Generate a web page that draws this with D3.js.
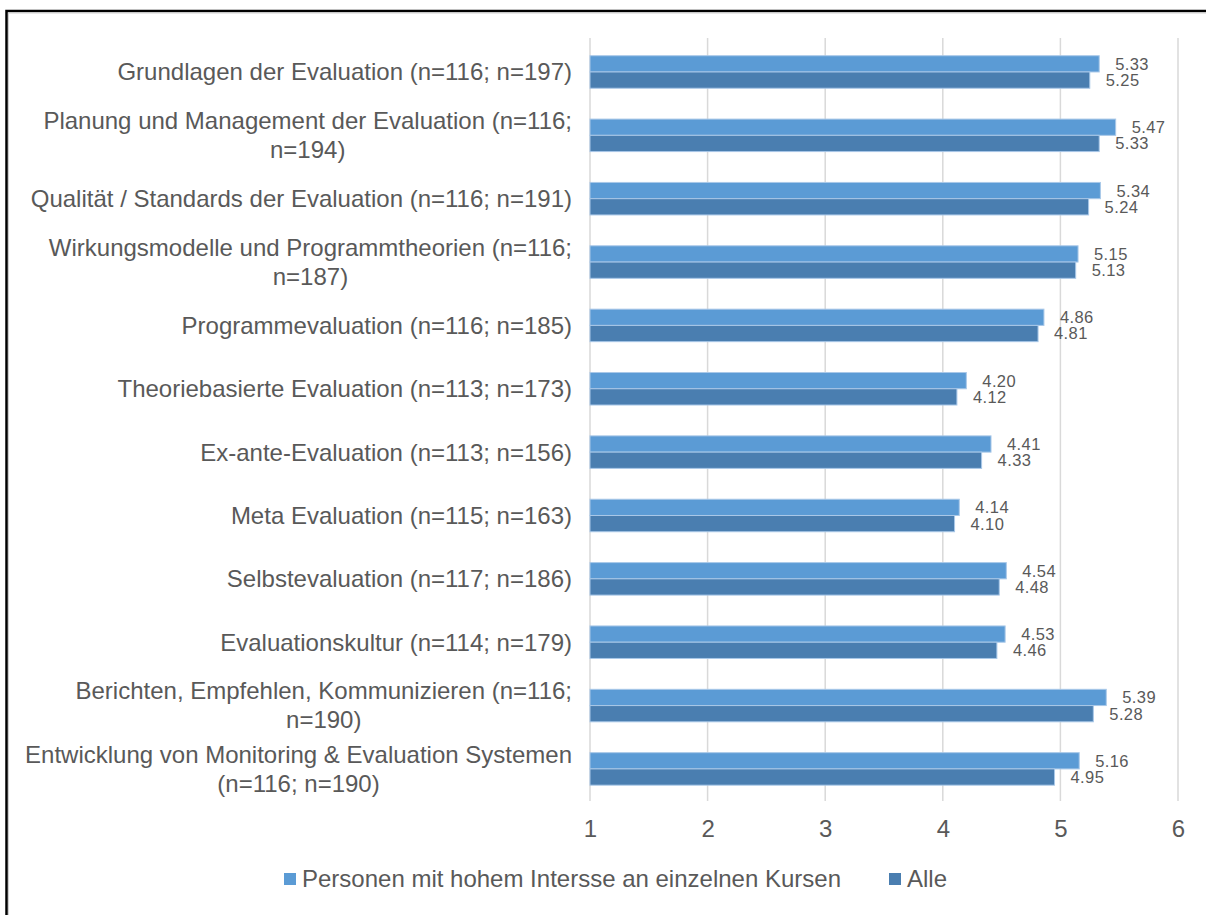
<!DOCTYPE html>
<html>
<head>
<meta charset="utf-8">
<script src="https://cdn.jsdelivr.net/npm/d3@7"></script>
<style>
  html, body { margin: 0; background: #fff; overflow: hidden; }
  svg { display: block; font-family: "Liberation Sans", Arial, sans-serif; }
</style>
</head>
<body>
<div id="chart"></div>
<script>
// categories (line breaks as in the original)
var categories = [
	"Grundlagen der Evaluation (n=116; n=197)",
	"Planung und Management der Evaluation (n=116;\nn=194)",
	"Qualität / Standards der Evaluation (n=116; n=191)",
	"Wirkungsmodelle und Programmtheorien (n=116;\nn=187)",
	"Programmevaluation (n=116; n=185)",
	"Theoriebasierte Evaluation (n=113; n=173)",
	"Ex-ante-Evaluation (n=113; n=156)",
	"Meta Evaluation (n=115; n=163)",
	"Selbstevaluation (n=117; n=186)",
	"Evaluationskultur (n=114; n=179)",
	"Berichten, Empfehlen, Kommunizieren (n=116;\nn=190)",
	"Entwicklung von Monitoring & Evaluation Systemen\n(n=116; n=190)"
];
var interessiert = [5.33, 5.47, 5.34, 5.15, 4.86, 4.20, 4.41, 4.14, 4.54, 4.53, 5.39, 5.16];
var alle = [5.25, 5.33, 5.24, 5.13, 4.81, 4.12, 4.33, 4.10, 4.48, 4.46, 5.28, 4.95];
var seriesNames = ["Personen mit hohem Intersse an einzelnen Kursen", "Alle"];
var xTicks = [1, 2, 3, 4, 5, 6];

var w = 1206, h = 915;
var colors = ["#5B9BD5", "#4A7EB0"];
var textColor = "#595959";

var svg = d3.select("#chart")
	.append("svg")
	.attr("width", w)
	.attr("height", h);

// frame (only top and left edges are visible)
svg.append("path")
	.attr("d", "M6.5,915 V11 H1206")
	.attr("fill", "none")
	.attr("stroke", "#000")
	.attr("stroke-width", 2.5);
svg.append("path")
	.attr("d", "M8.5,915 V13 H1206")
	.attr("fill", "none")
	.attr("stroke", "#d0d0d0")
	.attr("stroke-width", 1);

var x = d3.scaleLinear().domain([1, 6]).range([590, 1178]);
var y = d3.scaleBand().domain(d3.range(categories.length)).range([40.3, 800.6])
	.paddingInner(0.487).paddingOuter(0.2435);
var sub = d3.scaleBand().domain([0, 1]).range([0, y.bandwidth()]);

// gridlines
svg.append("g").selectAll("line")
	.data(xTicks)
	.enter()
	.append("line")
	.attr("x1", function(d) { return x(d); })
	.attr("x2", function(d) { return x(d); })
	.attr("y1", 38)
	.attr("y2", 801)
	.attr("stroke", "#d9d9d9")
	.attr("stroke-width", 1.5);

// x axis
var axis = svg.append("g")
	.attr("transform", "translate(0,801)")
	.call(d3.axisBottom(x).tickValues(xTicks).tickFormat(d3.format("d")).tickSize(0).tickPadding(19));
axis.select(".domain").remove();
axis.selectAll("text")
	.attr("font-size", "24px")
	.attr("font-family", "'Liberation Sans', Arial, sans-serif")
	.attr("fill", textColor);

// bars
var data = categories.map(function(c, i) {
	return [interessiert[i], alle[i]];
});
var groups = svg.append("g").selectAll("g")
	.data(data)
	.enter()
	.append("g")
	.attr("transform", function(d, i) { return "translate(0," + y(i) + ")"; });

groups.selectAll("rect")
	.data(function(d) { return d; })
	.enter()
	.append("rect")
	.attr("x", x(1))
	.attr("y", function(d, j) { return sub(j); })
	.attr("width", function(d) { return x(d) - x(1); })
	.attr("height", sub.bandwidth())
	.attr("fill", function(d, j) { return colors[j]; })
	.attr("stroke", "#a9c8e8")
	.attr("stroke-width", 1);

// value labels, sized to the bar height so the two labels do not collide
groups.selectAll("text")
	.data(function(d) { return d; })
	.enter()
	.append("text")
	.text(function(d) { return d.toFixed(2); })
	.attr("x", function(d) { return x(d) + 16; })
	.attr("y", function(d, j) { return sub(j) + sub.bandwidth() / 2; })
	.attr("dy", "0.36em")
	.attr("font-size", "16.5px")
	.attr("letter-spacing", "0.4px")
	.attr("fill", textColor);

// category labels
var labels = svg.append("g").selectAll("text")
	.data(categories)
	.enter()
	.append("text")
	.attr("text-anchor", "end")
	.attr("font-size", "24px")
	.attr("fill", textColor)
	.attr("transform", function(d, i) { return "translate(572," + (y(i) + y.bandwidth() / 2) + ")"; });

labels.each(function(d) {
	var lines = d.split("\n");
	var lh = 29;
	var t = d3.select(this);
	lines.forEach(function(line, k) {
		var tsp = t.append("tspan")
			.attr("x", 0)
			.attr("y", (k - (lines.length - 1) / 2) * lh)
			.attr("dy", "0.35em")
			.text(line);
		if (k > 0) tsp.attr("text-anchor", "middle");
	});
});
// centre continuation lines under the first line
labels.each(function() {
	var tsps = d3.select(this).selectAll("tspan").nodes();
	if (tsps.length > 1) {
		var first = tsps[0].getComputedTextLength();
		for (var k = 1; k < tsps.length; k++) {
			d3.select(tsps[k]).attr("x", -first / 2);
		}
	}
});

// legend
var legend = svg.append("g").attr("transform", "translate(0,879)");
var legendX = [284, 889];
seriesNames.forEach(function(name, j) {
	legend.append("rect")
		.attr("x", legendX[j])
		.attr("y", -6)
		.attr("width", 12)
		.attr("height", 12)
		.attr("fill", colors[j]);
	legend.append("text")
		.attr("x", legendX[j] + 18)
		.attr("y", 0)
		.attr("dy", "0.35em")
		.attr("font-size", "24px")
		.attr("fill", textColor)
		.text(name);
});
</script>
</body>
</html>
